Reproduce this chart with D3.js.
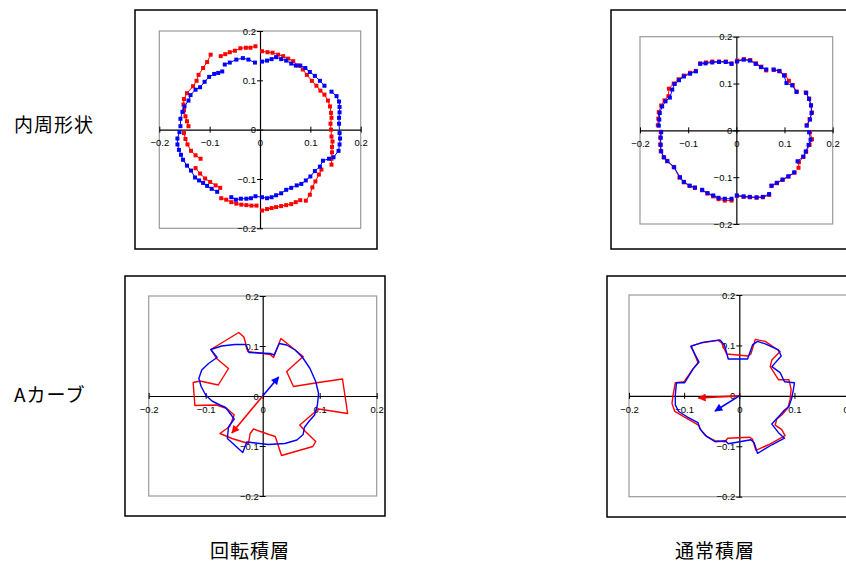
<!DOCTYPE html>
<html>
<head>
<meta charset="utf-8">
<title>内周形状 / Aカーブ</title>
<script src="https://d3js.org/d3.v7.min.js"></script>
<style>
  body { margin: 0; background: #fff; }
  .tick text { font-family: "Liberation Sans", Arial, sans-serif; font-size: 9.5px; fill: #000; }
  .lbl { font-family: "Noto Sans CJK JP", sans-serif; font-size: 19px; fill: #000; }
</style>
</head>
<body>
<div id="chart"></div>
<script>
// 目盛り
const ticks = [-0.2, -0.1, 0, 0.1, 0.2];
const tickLabels = ["−0.2", "−0.1", "0", "0.1", "0.2"];

// 見出し
const rowLabels = ["内周形状", "Aカーブ"];
const colLabels = ["回転積層", "通常積層"];

// 内周形状・回転積層 (点列、区切りごと)
const p1Red = [
  [[0.004,0.159],[0.015,0.157],[0.025,0.156],[0.036,0.152],[0.046,0.149],[0.056,0.144],[0.066,0.139],[0.075,0.130],[0.085,0.122],[0.093,0.111],[0.103,0.099],[0.112,0.089],[0.120,0.079],[0.128,0.071],[0.135,0.059],[0.139,0.047],[0.141,0.034],[0.142,0.024],[0.140,0.012],[0.141,0.000],[0.142,-0.014],[0.144,-0.024],[0.143,-0.035],[0.143,-0.046],[0.142,-0.059],[0.142,-0.071]],
  [[0.122,-0.081],[0.117,-0.091],[0.110,-0.105],[0.104,-0.117],[0.099,-0.132],[0.091,-0.144]],
  [[0.080,-0.143],[0.071,-0.147],[0.062,-0.151],[0.052,-0.153],[0.042,-0.155],[0.032,-0.157],[0.023,-0.159],[0.014,-0.161],[0.004,-0.164]],
  [[-0.007,-0.154],[-0.017,-0.154],[-0.027,-0.153],[-0.037,-0.152],[-0.047,-0.150],[-0.057,-0.147],[-0.067,-0.142],[-0.077,-0.139]],
  [[-0.079,-0.118],[-0.088,-0.113],[-0.099,-0.106],[-0.109,-0.099],[-0.119,-0.089],[-0.128,-0.078]],
  [[-0.118,-0.059],[-0.128,-0.052],[-0.137,-0.043],[-0.144,-0.030],[-0.148,-0.019],[-0.151,-0.007]],
  [[-0.142,0.007],[-0.145,0.017],[-0.148,0.027],[-0.151,0.039],[-0.152,0.051],[-0.151,0.062],[-0.145,0.074],[-0.133,0.088],[-0.126,0.099],[-0.122,0.111],[-0.113,0.125],[-0.105,0.137],[-0.098,0.152]],
  [[-0.078,0.149],[-0.069,0.153],[-0.060,0.157],[-0.050,0.160],[-0.039,0.165],[-0.028,0.166],[-0.019,0.166],[-0.009,0.169]]
];
const p1Blue = [
  [[0.004,0.138],[0.014,0.140],[0.023,0.143],[0.032,0.147],[0.042,0.143],[0.052,0.140],[0.062,0.134],[0.071,0.130],[0.080,0.130],[0.090,0.125],[0.099,0.117],[0.109,0.109],[0.119,0.099],[0.128,0.089]],
  [[0.142,0.077],[0.152,0.068],[0.157,0.057],[0.158,0.046],[0.158,0.035],[0.157,0.024],[0.157,0.012],[0.158,-0.007],[0.159,-0.018],[0.158,-0.030],[0.156,-0.043],[0.146,-0.056]],
  [[0.137,-0.059],[0.125,-0.063],[0.119,-0.075],[0.109,-0.084],[0.100,-0.095],[0.091,-0.103],[0.082,-0.110],[0.073,-0.113],[0.062,-0.118],[0.052,-0.122],[0.042,-0.129],[0.032,-0.133],[0.023,-0.137],[0.014,-0.139],[0.004,-0.137],[-0.009,-0.135],[-0.018,-0.139],[-0.027,-0.140],[-0.038,-0.140],[-0.048,-0.142],[-0.057,-0.137]],
  [[-0.085,-0.126],[-0.096,-0.120],[-0.105,-0.114],[-0.113,-0.108],[-0.121,-0.103],[-0.129,-0.097],[-0.137,-0.083],[-0.145,-0.073],[-0.153,-0.061],[-0.157,-0.051],[-0.161,-0.041],[-0.164,-0.030],[-0.164,-0.018],[-0.160,-0.005]],
  [[-0.158,0.007],[-0.158,0.022],[-0.154,0.036],[-0.150,0.047],[-0.142,0.059],[-0.138,0.070],[-0.128,0.081],[-0.119,0.086],[-0.110,0.097],[-0.101,0.107],[-0.091,0.113],[-0.083,0.115],[-0.075,0.118]],
  [[-0.070,0.132],[-0.060,0.136],[-0.047,0.142],[-0.034,0.145],[-0.023,0.142],[-0.010,0.136]]
];

// 内周形状・通常積層
const p2Red = [
  [[0.002,0.149],[0.016,0.152],[0.029,0.150],[0.041,0.143],[0.052,0.136],[0.062,0.128]],
  [[0.078,0.129],[0.090,0.126],[0.101,0.118],[0.109,0.106],[0.117,0.097],[0.125,0.083]],
  [[0.144,0.081],[0.151,0.068],[0.155,0.054],[0.157,0.038],[0.152,0.024],[0.146,0.011]],
  [[0.153,-0.004],[0.157,-0.019],[0.152,-0.031],[0.145,-0.046],[0.139,-0.057],[0.130,-0.068],[0.129,-0.080]],
  [[0.121,-0.090],[0.108,-0.099],[0.096,-0.106],[0.084,-0.113],[0.073,-0.119]],
  [[0.068,-0.138],[0.055,-0.143],[0.042,-0.144],[0.028,-0.143],[0.015,-0.142],[0.001,-0.140]],
  [[-0.010,-0.150],[-0.024,-0.150],[-0.037,-0.147],[-0.048,-0.141],[-0.060,-0.135],[-0.071,-0.128]],
  [[-0.086,-0.123],[-0.097,-0.119],[-0.109,-0.111],[-0.118,-0.101],[-0.130,-0.078],[-0.144,-0.065],[-0.151,-0.057],[-0.157,-0.044],[-0.158,-0.030],[-0.158,-0.015],[-0.157,-0.003]],
  [[-0.163,0.011],[-0.162,0.025],[-0.161,0.039],[-0.156,0.053],[-0.149,0.064],[-0.141,0.073],[-0.140,0.089],[-0.130,0.100],[-0.120,0.109],[-0.109,0.117],[-0.096,0.123],[-0.084,0.127]],
  [[-0.075,0.143],[-0.063,0.145],[-0.050,0.147],[-0.036,0.147],[-0.022,0.147],[-0.010,0.143]]
];
const p2Blue = [
  [[0.001,0.147],[0.015,0.151],[0.028,0.149],[0.040,0.142],[0.051,0.135],[0.062,0.130]],
  [[0.077,0.130],[0.089,0.127],[0.099,0.117],[0.104,0.101],[0.116,0.096],[0.125,0.082]],
  [[0.145,0.080],[0.151,0.067],[0.155,0.053],[0.156,0.037],[0.153,0.023],[0.146,0.010]],
  [[0.151,-0.004],[0.154,-0.020],[0.150,-0.031],[0.144,-0.045],[0.139,-0.056],[0.127,-0.066]],
  [[0.120,-0.090],[0.108,-0.098],[0.096,-0.105],[0.084,-0.112],[0.073,-0.118]],
  [[0.068,-0.136],[0.055,-0.142],[0.042,-0.143],[0.028,-0.142],[0.015,-0.141],[0.001,-0.139]],
  [[-0.010,-0.146],[-0.024,-0.146],[-0.037,-0.144],[-0.048,-0.139],[-0.060,-0.134],[-0.071,-0.127]],
  [[-0.086,-0.122],[-0.097,-0.118],[-0.109,-0.110],[-0.117,-0.100],[-0.129,-0.079],[-0.143,-0.066],[-0.150,-0.058],[-0.156,-0.045],[-0.157,-0.031],[-0.157,-0.016],[-0.156,-0.004]],
  [[-0.161,0.010],[-0.160,0.023],[-0.159,0.037],[-0.154,0.051],[-0.147,0.062],[-0.138,0.070],[-0.133,0.087],[-0.128,0.099],[-0.119,0.107],[-0.109,0.115],[-0.096,0.121],[-0.084,0.126]],
  [[-0.075,0.142],[-0.064,0.143],[-0.050,0.145],[-0.036,0.146],[-0.022,0.146],[-0.010,0.142]]
];

// Aカーブ・回転積層 (閉じた折れ線)
const p3Red = [[-0.091,0.093],[-0.042,0.127],[-0.033,0.118],[-0.026,0.089],[0.013,0.083],[0.019,0.077],[0.032,0.115],[0.071,0.079],[0.042,0.049],[0.054,0.019],[0.098,0.027],[0.140,0.034],[0.149,-0.035],[0.098,-0.026],[0.065,-0.058],[0.074,-0.070],[0.093,-0.091],[0.088,-0.101],[0.033,-0.119],[0.022,-0.081],[0.011,-0.077],[-0.016,-0.066],[-0.022,-0.075],[-0.025,-0.095],[-0.054,-0.085],[-0.075,-0.075],[-0.058,-0.061],[-0.050,-0.038],[-0.063,-0.025],[-0.081,-0.018],[-0.119,-0.019],[-0.122,0.027],[-0.110,0.030],[-0.078,0.022],[-0.060,0.055],[-0.081,0.075]];
const p3Blue = [[-0.091,0.093],[-0.080,0.077],[-0.095,0.065],[-0.107,0.052],[-0.112,0.035],[-0.108,0.019],[-0.100,0.002],[-0.089,-0.010],[-0.075,-0.018],[-0.065,-0.023],[-0.050,-0.046],[-0.060,-0.062],[-0.062,-0.085],[-0.035,-0.113],[-0.028,-0.092],[-0.013,-0.094],[0.010,-0.097],[0.039,-0.095],[0.060,-0.088],[0.071,-0.077],[0.073,-0.063],[0.081,-0.051],[0.091,-0.038],[0.096,-0.018],[0.098,0.005],[0.093,0.029],[0.083,0.055],[0.070,0.077],[0.057,0.092],[0.042,0.102],[0.029,0.105],[0.020,0.082],[0.013,0.085],[-0.024,0.087],[-0.030,0.103],[-0.049,0.103],[-0.072,0.100]];
const p3Arrows = [{ color: "red", to: [-0.054, -0.074] }, { color: "blue", to: [0.028, 0.038] }];

// Aカーブ・通常積層
const p4Red = [[-0.087,0.099],[-0.068,0.105],[-0.038,0.110],[-0.032,0.105],[-0.023,0.083],[0.016,0.079],[0.021,0.083],[0.029,0.112],[0.047,0.108],[0.074,0.088],[0.059,0.071],[0.056,0.058],[0.071,0.032],[0.090,0.032],[0.094,0.013],[0.092,-0.008],[0.088,-0.024],[0.077,-0.038],[0.068,-0.046],[0.065,-0.058],[0.077,-0.067],[0.083,-0.079],[0.053,-0.097],[0.030,-0.108],[0.024,-0.086],[0.018,-0.082],[-0.021,-0.084],[-0.026,-0.091],[-0.044,-0.089],[-0.059,-0.081],[-0.070,-0.067],[-0.074,-0.058],[-0.096,-0.044],[-0.117,-0.031],[-0.122,-0.015],[-0.120,0.002],[-0.116,0.026],[-0.100,0.028],[-0.085,0.052],[-0.075,0.066]];
const p4Blue = [[-0.088,0.098],[-0.067,0.106],[-0.035,0.111],[-0.027,0.101],[-0.020,0.073],[0.015,0.073],[0.024,0.101],[0.033,0.108],[0.047,0.103],[0.071,0.091],[0.076,0.079],[0.059,0.058],[0.074,0.046],[0.082,0.028],[0.100,0.026],[0.098,0.012],[0.095,-0.005],[0.090,-0.021],[0.082,-0.028],[0.074,-0.038],[0.059,-0.056],[0.071,-0.073],[0.082,-0.084],[0.059,-0.097],[0.033,-0.114],[0.027,-0.093],[0.021,-0.087],[-0.020,-0.095],[-0.025,-0.089],[-0.044,-0.091],[-0.061,-0.079],[-0.071,-0.066],[-0.075,-0.053],[-0.094,-0.042],[-0.110,-0.031],[-0.116,-0.018],[-0.116,0.002],[-0.114,0.026],[-0.099,0.026],[-0.084,0.053],[-0.073,0.067]];
const p4Arrows = [{ color: "red", to: [-0.074, -0.004] }, { color: "blue", to: [-0.044, -0.030] }];

const W = 846, H = 563;
const svg = d3.select("#chart").append("svg")
  .attr("width", W).attr("height", H)
  .style("display", "block");

const defs = svg.append("defs");
["red", "blue"].forEach(c => {
  defs.append("marker")
    .attr("id", "arr-" + c)
    .attr("viewBox", "0 0 10 10")
    .attr("refX", 9).attr("refY", 5)
    .attr("markerUnits", "userSpaceOnUse")
    .attr("markerWidth", 9).attr("markerHeight", 8)
    .attr("orient", "auto")
    .append("path").attr("d", "M0,0L10,5L0,10Z").attr("fill", c);
});

// 枠と軸
function makePanel(frame, plot) {
  const g = svg.append("g");
  g.append("rect")
    .attr("x", frame[0]).attr("y", frame[1])
    .attr("width", frame[2] - frame[0]).attr("height", frame[3] - frame[1])
    .attr("fill", "#fff").attr("stroke", "#000").attr("stroke-width", 1.5);

  const x = d3.scaleLinear().domain([-0.2, 0.2]).range([plot[0], plot[2]]);
  const y = d3.scaleLinear().domain([-0.2, 0.2]).range([plot[3], plot[1]]);

  g.append("rect")
    .attr("x", plot[0]).attr("y", plot[1])
    .attr("width", plot[2] - plot[0]).attr("height", plot[3] - plot[1])
    .attr("fill", "none").attr("stroke", "#9a9a9a").attr("stroke-width", 1.2);

  const fmt = d => tickLabels[ticks.indexOf(d)];

  const xa = g.append("g")
    .attr("transform", `translate(0,${y(0)})`)
    .call(d3.axisBottom(x).tickValues(ticks).tickFormat(fmt).tickSizeOuter(0).tickSizeInner(3).tickPadding(7));
  xa.selectAll(".tick line").attr("y1", -3).attr("y2", 3);

  const ya = g.append("g")
    .attr("transform", `translate(${x(0)},0)`)
    .call(d3.axisLeft(y).tickValues(ticks).tickFormat(fmt).tickSizeOuter(0).tickSizeInner(3).tickPadding(1));
  ya.selectAll(".tick line").attr("x1", -3).attr("x2", 3);

  g.selectAll(".domain").attr("stroke", "#000").attr("stroke-width", 1.2);
  g.selectAll(".tick line").attr("stroke", "#000");
  return { g, x, y };
}

function drawPoints(P, segs, color) {
  const line = d3.line().x(d => P.x(d[0])).y(d => P.y(d[1]));
  P.g.selectAll(null).data(segs).enter().append("path")
    .attr("d", line).attr("fill", "none").attr("stroke", color).attr("stroke-width", 1);
  P.g.selectAll(null).data(segs.flat()).enter().append("rect")
    .attr("x", d => P.x(d[0]) - 2).attr("y", d => P.y(d[1]) - 2)
    .attr("width", 4).attr("height", 4).attr("fill", color);
}

function drawCurve(P, pts, color) {
  const line = d3.line().x(d => P.x(d[0])).y(d => P.y(d[1])).curve(d3.curveLinearClosed);
  P.g.append("path").datum(pts)
    .attr("d", line).attr("fill", "none").attr("stroke", color)
    .attr("stroke-width", 1.4).attr("stroke-linejoin", "round");
}

function drawArrows(P, arrows) {
  P.g.selectAll(null).data(arrows).enter().append("line")
    .attr("x1", P.x(0)).attr("y1", P.y(0))
    .attr("x2", d => P.x(d.to[0])).attr("y2", d => P.y(d.to[1]))
    .attr("stroke", d => d.color).attr("stroke-width", 1.6)
    .attr("marker-end", d => `url(#arr-${d.color})`);
}

const P1 = makePanel([135, 10, 377, 249], [159.3, 31, 360.7, 228.3]);
drawPoints(P1, p1Red, "red");
drawPoints(P1, p1Blue, "blue");

const P2 = makePanel([611, 10, 852, 249], [640, 36.7, 832.7, 224]);
drawPoints(P2, p2Red, "red");
drawPoints(P2, p2Blue, "blue");

const P3 = makePanel([125, 276, 385, 516], [148.7, 296, 376.7, 496]);
drawCurve(P3, p3Red, "red");
drawCurve(P3, p3Blue, "blue");
drawArrows(P3, p3Arrows);

const P4 = makePanel([607, 276, 867, 517], [629, 295, 849.6, 496.7]);
drawCurve(P4, p4Red, "red");
drawCurve(P4, p4Blue, "blue");
drawArrows(P4, p4Arrows);

// 見出し
svg.selectAll(null).data(rowLabels).enter().append("text")
  .attr("class", "lbl")
  .attr("x", 14).attr("y", (d, i) => [132, 402][i])
  .style("letter-spacing", "1px")
  .text(d => d);

svg.selectAll(null).data(colLabels).enter().append("text")
  .attr("class", "lbl")
  .attr("x", (d, i) => [250, 715][i]).attr("y", 558)
  .attr("text-anchor", "middle")
  .style("letter-spacing", "1px")
  .text(d => d);
</script>
</body>
</html>
